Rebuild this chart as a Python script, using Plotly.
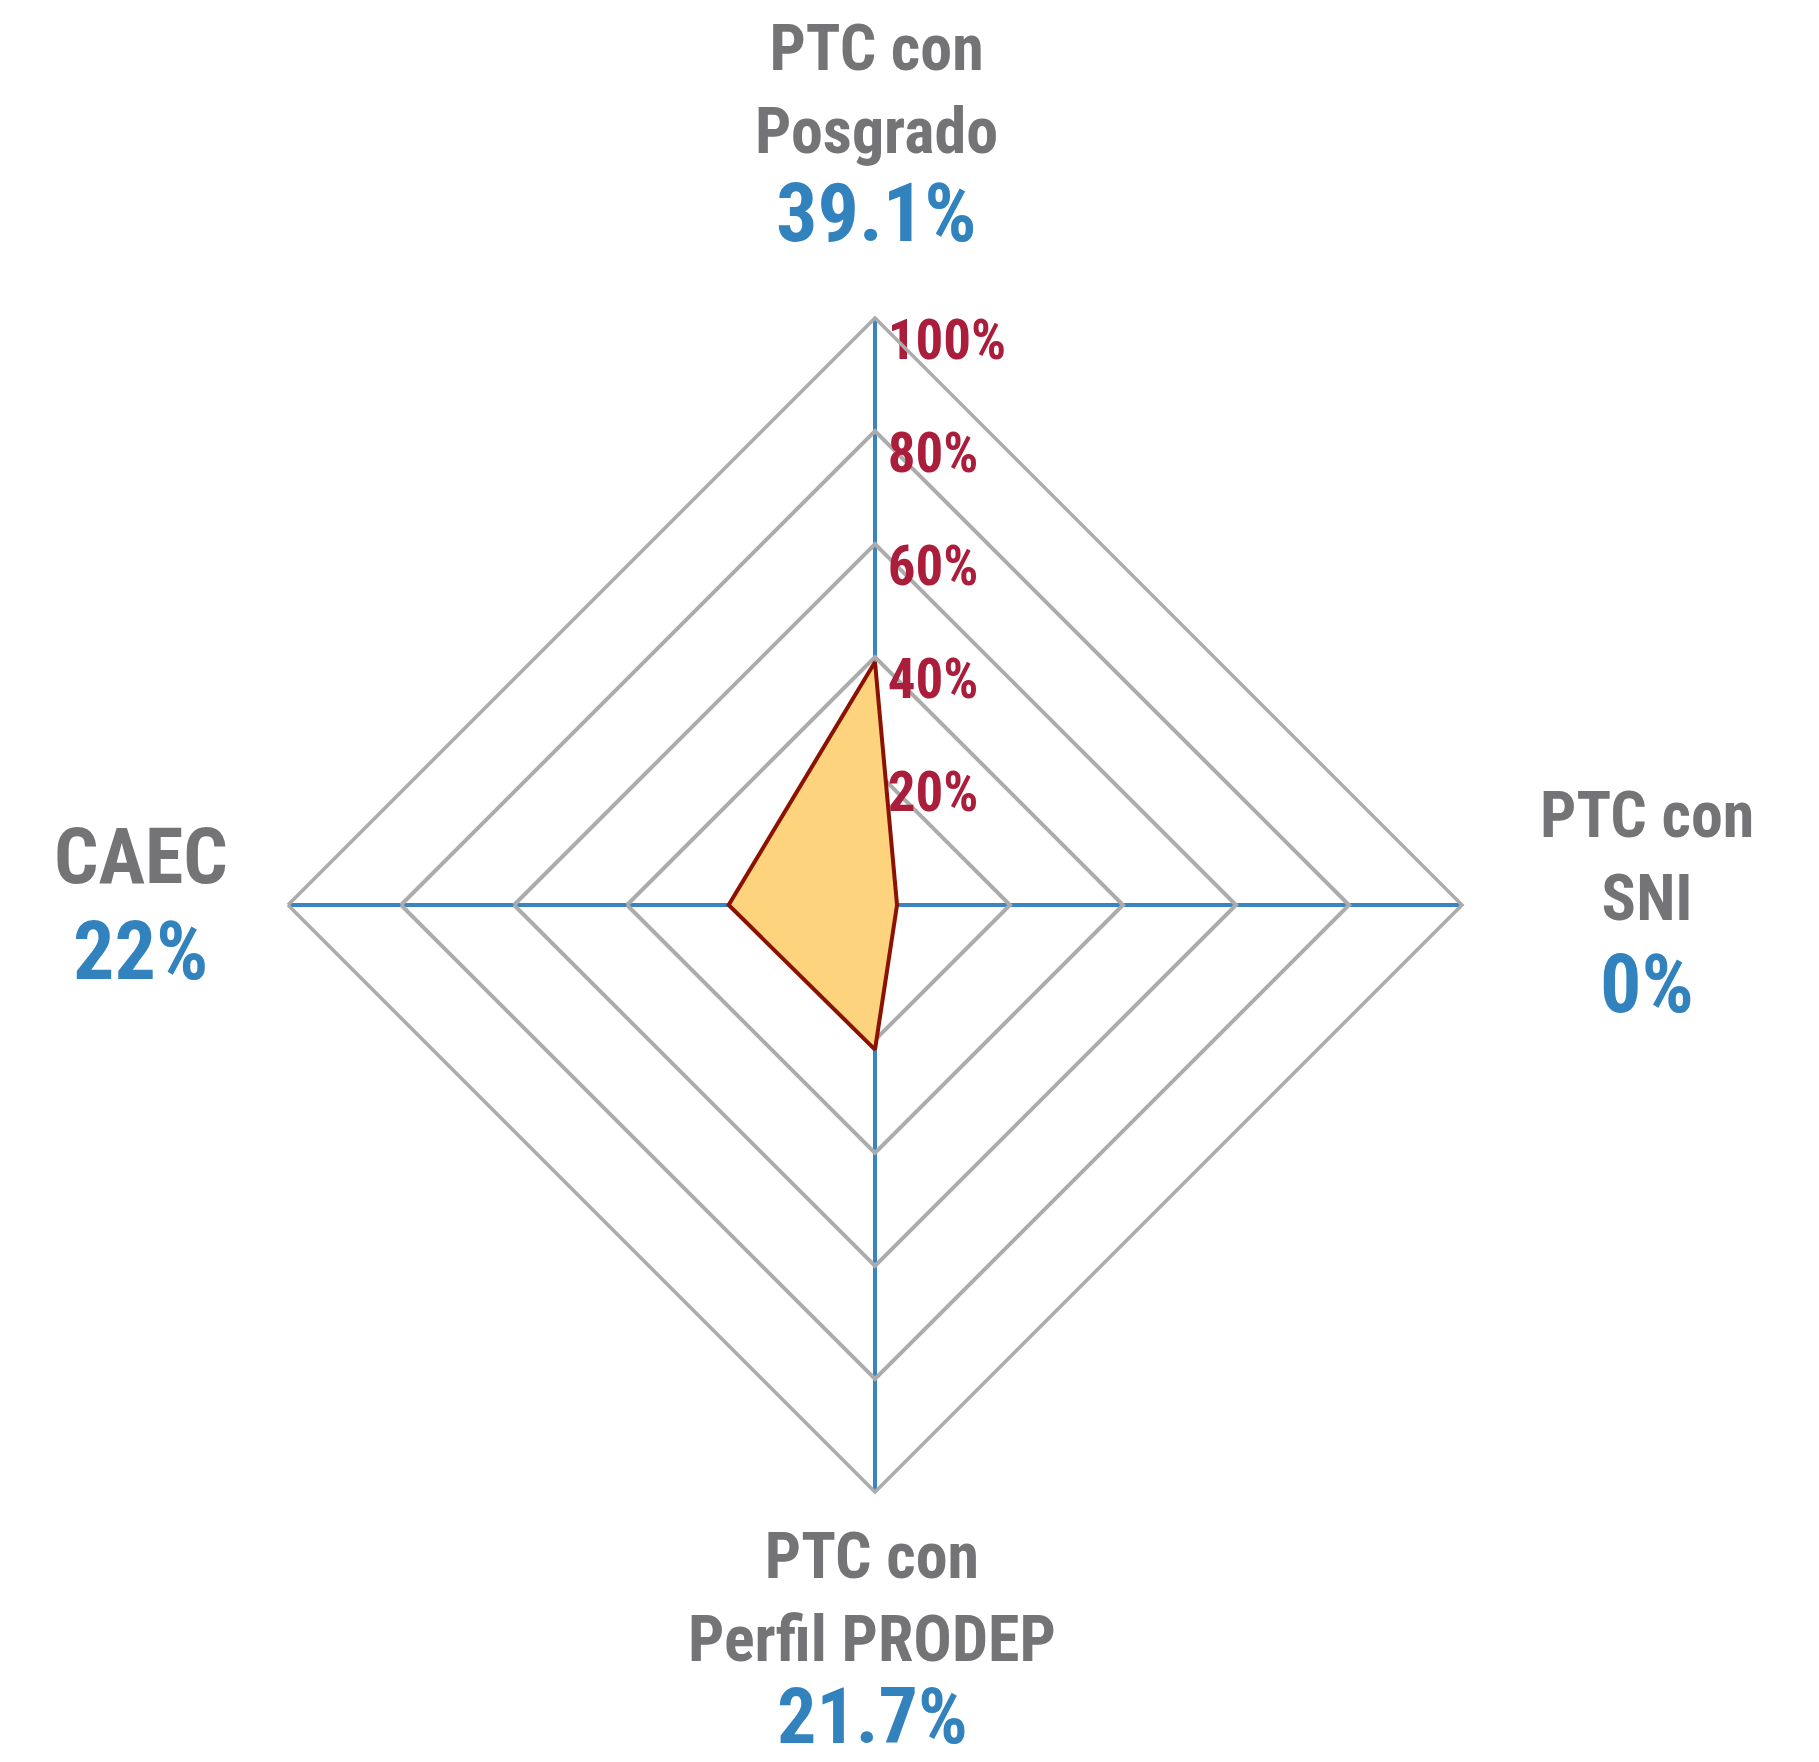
import plotly.graph_objects as go

# ---- data ----
categories = ["PTC con Posgrado", "PTC con SNI", "PTC con Perfil PRODEP", "CAEC"]
name_lines = ["PTC con<br>Posgrado", "PTC con<br>SNI", "PTC con<br>Perfil PRODEP", "CAEC"]
values = [39.1, 0, 21.7, 22]
value_labels = ["39.1%", "0%", "21.7%", "22%"]
tick_vals = [20, 40, 60, 80, 100]
tick_text = ["20%", "40%", "60%", "80%", "100%"]

# ---- styling / layout constants ----
W, H = 1819, 1762
FONT = "Roboto Condensed, Liberation Sans Narrow, Liberation Sans, sans-serif"
GRAY_TXT = "#747477"
BLUE_TXT = "#3282BE"
TICK_RED = "#AA1D3B"
GRID = "#ACACAC"
SPOKE = "#3A85C0"

cx, cy, R = 875, 905, 587
# pixel centres of the outer labels (name block, value)
name_pos = [(876, 90), (1647, 857), (872, 1598), (141, 856)]
value_pos = [(876, 213), (1647, 984), (872, 1716), (140, 951)]
name_sizes = [64, 64, 64, 78]
value_sizes = [82, 82, 78, 82]

fig = go.Figure()

theta_closed = categories + [categories[0]]
r_closed = values + [values[0]]
fig.add_trace(go.Scatterpolar(
    r=r_closed, theta=theta_closed, mode="lines", fill="toself",
    fillcolor="#FED37D", line=dict(color="#8B1100", width=4),
    hoverinfo="skip", showlegend=False,
))

# radial tick labels, placed through the polar axes
fig.add_trace(go.Scatterpolar(
    r=tick_vals, theta=[categories[0]] * len(tick_vals), mode="text",
    text=["&nbsp;" + t for t in tick_text], textposition="bottom right",
    textfont=dict(family=FONT, size=55, color=TICK_RED, weight="bold"),
    hoverinfo="skip", showlegend=False,
))

annotations = []
for i in range(len(categories)):
    nx, ny = name_pos[i]
    vx, vy = value_pos[i]
    annotations.append(dict(
        x=nx / W, y=1 - ny / H, xref="paper", yref="paper",
        text=name_lines[i], showarrow=False, xanchor="center", yanchor="middle",
        font=dict(family=FONT, size=name_sizes[i], color=GRAY_TXT, weight="bold"),
    ))
    annotations.append(dict(
        x=vx / W, y=1 - vy / H, xref="paper", yref="paper",
        text=value_labels[i], showarrow=False, xanchor="center", yanchor="middle",
        font=dict(family=FONT, size=value_sizes[i], color=BLUE_TXT, weight="bold"),
    ))

fig.update_layout(
    width=W, height=H,
    margin=dict(l=0, r=0, t=0, b=0),
    paper_bgcolor="white", plot_bgcolor="white",
    showlegend=False,
    annotations=annotations,
    polar=dict(
        domain=dict(x=[(cx - R) / W, (cx + R) / W],
                    y=[1 - (cy + R) / H, 1 - (cy - R) / H]),
        bgcolor="white",
        gridshape="linear",
        radialaxis=dict(
            range=[-3.9, 100], tickvals=tick_vals, showticklabels=False,
            ticks="", showline=False, gridcolor=GRID, gridwidth=3.5,
            angle=90,
        ),
        angularaxis=dict(
            categoryarray=categories, categoryorder="array",
            rotation=90, direction="clockwise",
            showticklabels=False, ticks="",
            gridcolor=SPOKE, gridwidth=3.5,
            showline=True, linecolor=GRID, linewidth=3.5,
        ),
    ),
)

fig.write_html(
    "out.html",
    config={"displayModeBar": False},
    post_script="document.body.style.margin='0';document.body.style.overflow='hidden';",
)
